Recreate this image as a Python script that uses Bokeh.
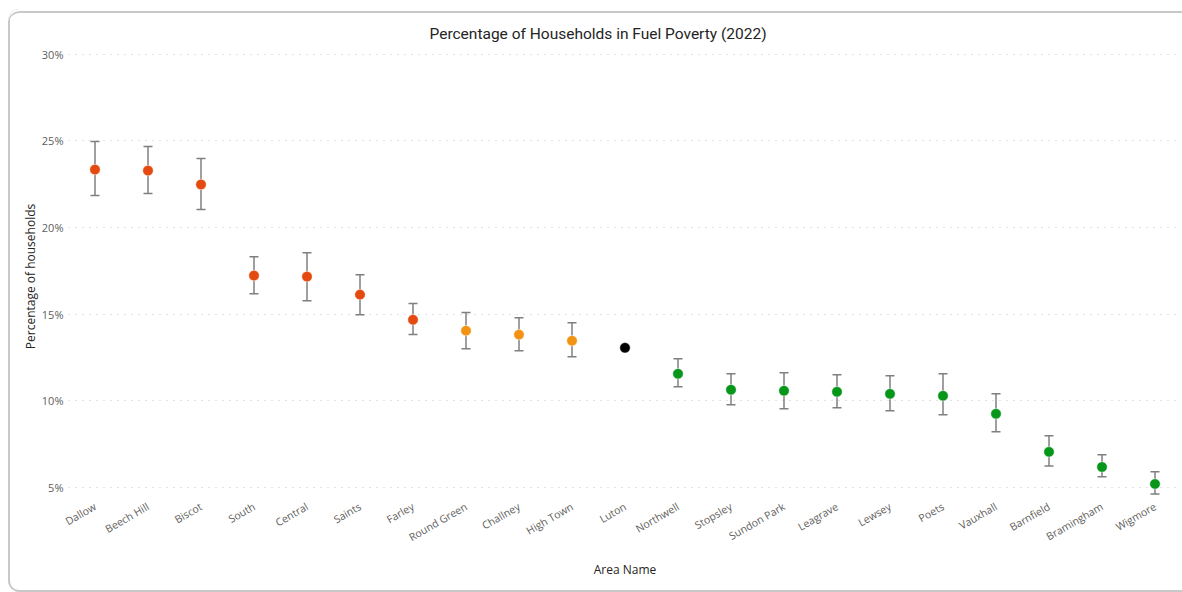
import math

from bokeh.embed import file_html
from bokeh.models import (ColumnDataSource, FixedTicker, PrintfTickFormatter,
                          TeeHead, Whisker)
from bokeh.plotting import figure
from bokeh.resources import INLINE
from bokeh.transform import factor_cmap

# Fuel poverty by ward, 2022 (percentage of households, with confidence interval)
areas = ["Dallow", "Beech Hill", "Biscot", "South", "Central", "Saints", "Farley",
         "Round Green", "Challney", "High Town", "Luton", "Northwell", "Stopsley",
         "Sundon Park", "Leagrave", "Lewsey", "Poets", "Vauxhall", "Barnfield",
         "Bramingham", "Wigmore"]
value = [23.35, 23.29, 22.49, 17.23, 17.17, 16.13, 14.68, 14.05, 13.82, 13.47,
         13.06, 11.56, 10.64, 10.58, 10.52, 10.40, 10.29, 9.25, 7.05, 6.18, 5.20]
lower = [21.85, 21.97, 21.04, 16.18, 15.78, 14.97, 13.82, 13.01, 12.89, 12.54,
         None, 10.81, 9.77, 9.54, 9.60, 9.42, 9.19, 8.21, 6.24, 5.61, 4.62]
upper = [24.97, 24.68, 23.99, 18.32, 18.55, 17.28, 15.61, 15.09, 14.80, 14.51,
         None, 12.43, 11.56, 11.62, 11.50, 11.45, 11.56, 10.40, 7.98, 6.88, 5.90]
# comparison with the Luton average
status = ["Higher", "Higher", "Higher", "Higher", "Higher", "Higher", "Higher",
          "Similar", "Similar", "Similar", "Luton", "Lower", "Lower", "Lower",
          "Lower", "Lower", "Lower", "Lower", "Lower", "Lower", "Lower"]
status_levels = ["Higher", "Similar", "Luton", "Lower"]
status_colors = ["#E44A10", "#F39313", "#000000", "#06961A"]
y_ticks = [5, 10, 15, 20, 25, 30]

points = ColumnDataSource(dict(area=areas, value=value, status=status))
ci_rows = [i for i in range(len(areas)) if lower[i] is not None]
intervals = ColumnDataSource(dict(area=[areas[i] for i in ci_rows],
                                  lower=[lower[i] for i in ci_rows],
                                  upper=[upper[i] for i in ci_rows]))

TEXT = "#252423"
MUTED = "#605E5C"
LABEL_FONT = "Open Sans"
CARD = "#C8C8C8"

# the card outline is drawn as inset shadows on the figure element (left, top
# and bottom edges, rounded on the left); the top edge sits 2px inside the
# element, and the canvas border area is transparent so the shadows show
card_shadow = ", ".join([
    "inset 0 2px 0 0 #FFFFFF",
    f"inset 0 4px 0 0 {CARD}",
    f"inset 2px 0 0 0 {CARD}",
    f"inset 0 -2px 0 0 {CARD}",
])
p = figure(width=1174, height=583, x_range=areas, y_range=(4.3, 30.05),
           output_backend="svg", toolbar_location=None,
           title="Percentage of Households in Fuel Poverty (2022)",
           min_border_left=60, min_border_right=1, min_border_top=44,
           min_border_bottom=93, margin=(9, 0, 0, 8),
           styles={"border-radius": "12px 0 0 12px", "box-shadow": card_shadow})
p.outline_line_color = None
p.background_fill_color = "white"
p.border_fill_color = None

p.title.align = "left"
p.title.offset = 361
p.title.text_font = "Roboto"
p.title.text_font_style = "normal"
p.title.text_font_size = "15.5px"
p.title.text_color = TEXT
p.title.standoff = 21

# error bars
whisk = Whisker(source=intervals, base="area", lower="lower", upper="upper",
                dimension="height", line_color="#7F7F7F", line_width=1.5,
                upper_head=TeeHead(size=9, line_color="#7F7F7F", line_width=1.5),
                lower_head=TeeHead(size=9, line_color="#7F7F7F", line_width=1.5))
p.add_layout(whisk)

p.scatter("area", "value", source=points, size=10.5, line_color="white",
          line_width=0.5,
          fill_color=factor_cmap("status", status_colors, status_levels))

# y axis
p.yaxis.ticker = FixedTicker(ticks=y_ticks)
p.yaxis.formatter = PrintfTickFormatter(format="%d%%")
p.yaxis.axis_label = "Percentage of households"
p.yaxis.axis_label_text_font = LABEL_FONT
p.yaxis.axis_label_text_font_size = "12px"
p.yaxis.axis_label_text_font_style = "normal"
p.yaxis.axis_label_text_color = TEXT
p.yaxis.axis_label_standoff = 0
p.yaxis.major_label_text_font = LABEL_FONT
p.yaxis.major_label_text_font_size = "11px"
p.yaxis.major_label_text_color = MUTED
p.yaxis.major_label_standoff = 5

# x axis
p.xaxis.axis_label = "Area Name"
p.xaxis.axis_label_text_font = LABEL_FONT
p.xaxis.axis_label_text_font_size = "12px"
p.xaxis.axis_label_text_font_style = "normal"
p.xaxis.axis_label_text_color = TEXT
p.xaxis.axis_label_standoff = 8
p.xaxis.major_label_orientation = math.radians(30)
p.xaxis.major_label_text_font = LABEL_FONT
p.xaxis.major_label_text_font_size = "10.5px"
p.xaxis.major_label_text_color = MUTED
p.xaxis.major_label_standoff = 6

for ax in (p.xaxis, p.yaxis):
    ax.axis_line_color = None
    ax.major_tick_line_color = None
    ax.minor_tick_line_color = None
    ax.major_tick_out = 0
    ax.major_tick_in = 0

p.xgrid.grid_line_color = None
p.ygrid.grid_line_color = "#C4C4C4"
p.ygrid.grid_line_dash = "1 6"
p.ygrid.grid_line_width = 1

open("out.html", "w").write(file_html(p, INLINE))
